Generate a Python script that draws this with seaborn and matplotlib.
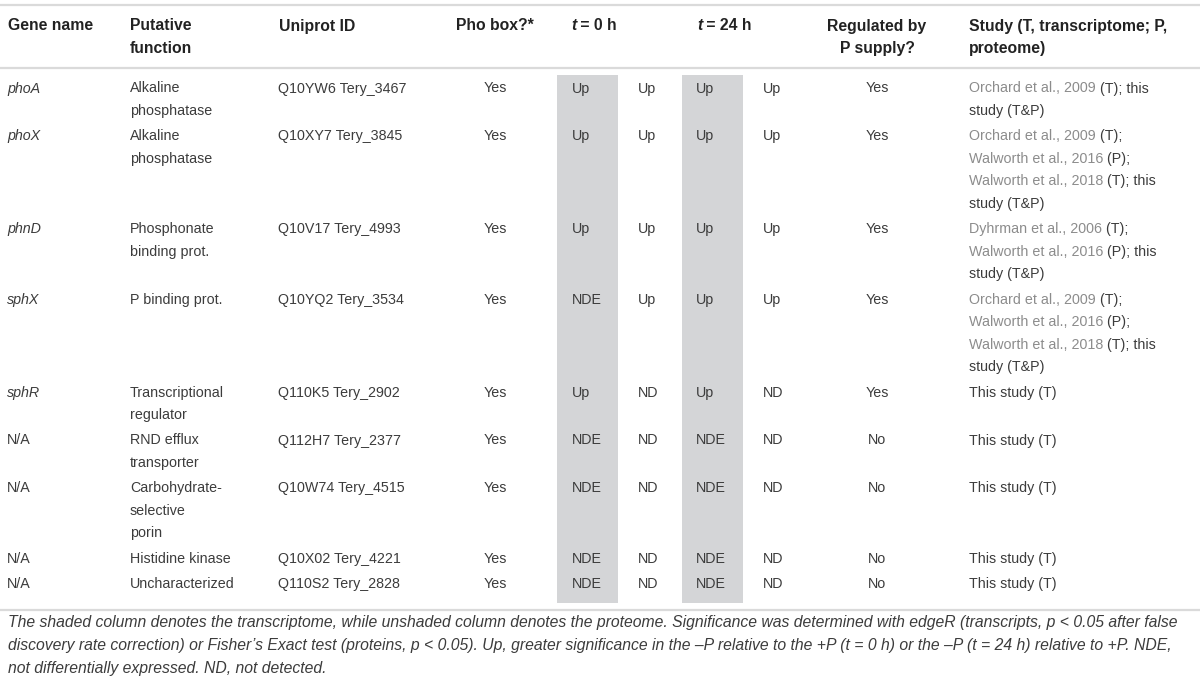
import matplotlib
matplotlib.use("Agg")
import matplotlib.pyplot as plt
from matplotlib import font_manager
import seaborn as sns

sns.set_theme(style="white")
plt.rcParams["font.family"] = ["Liberation Sans", "DejaVu Sans"]

# ---- table content ----
headers = [
    ["Gene name"],
    ["Putative", "function"],
    ["Uniprot ID"],
    ["Pho box?*"],
    ["t = 0 h"],
    ["t = 24 h"],
    ["Regulated by", "P supply?"],
    ["Study (T, transcriptome; P,", "proteome)"],
]
genes = ["phoA", "phoX", "phnD", "sphX", "sphR", "N/A", "N/A", "N/A", "N/A"]
functions = ["Alkaline\nphosphatase", "Alkaline\nphosphatase", "Phosphonate\nbinding prot.",
             "P binding prot.", "Transcriptional\nregulator", "RND efflux\ntransporter",
             "Carbohydrate-\nselective\nporin", "Histidine kinase", "Uncharacterized"]
uniprot = ["Q10YW6 Tery_3467", "Q10XY7 Tery_3845", "Q10V17 Tery_4993", "Q10YQ2 Tery_3534",
           "Q110K5 Tery_2902", "Q112H7 Tery_2377", "Q10W74 Tery_4515", "Q10X02 Tery_4221",
           "Q110S2 Tery_2828"]
pho_box = ["Yes", "Yes", "Yes", "Yes", "Yes", "Yes", "Yes", "Yes", "Yes"]
t0_transcriptome = ["Up", "Up", "Up", "NDE", "Up", "NDE", "NDE", "NDE", "NDE"]
t0_proteome = ["Up", "Up", "Up", "Up", "ND", "ND", "ND", "ND", "ND"]
t24_transcriptome = ["Up", "Up", "Up", "Up", "Up", "NDE", "NDE", "NDE", "NDE"]
t24_proteome = ["Up", "Up", "Up", "Up", "ND", "ND", "ND", "ND", "ND"]
regulated = ["Yes", "Yes", "Yes", "Yes", "Yes", "No", "No", "No", "No"]
# each line is a list of (text, is_reference) segments
study = [
    [[("Orchard et al., 2009", True), (" (T); this", False)], [("study (T&P)", False)]],
    [[("Orchard et al., 2009", True), (" (T);", False)],
     [("Walworth et al., 2016", True), (" (P);", False)],
     [("Walworth et al., 2018", True), (" (T); this", False)], [("study (T&P)", False)]],
    [[("Dyhrman et al., 2006", True), (" (T);", False)],
     [("Walworth et al., 2016", True), (" (P); this", False)], [("study (T&P)", False)]],
    [[("Orchard et al., 2009", True), (" (T);", False)],
     [("Walworth et al., 2016", True), (" (P);", False)],
     [("Walworth et al., 2018", True), (" (T); this", False)], [("study (T&P)", False)]],
    [[("This study (T)", False)]],
    [[("This study (T)", False)]],
    [[("This study (T)", False)]],
    [[("This study (T)", False)]],
    [[("This study (T)", False)]],
]
caption = [
    "The shaded column denotes the transcriptome, while unshaded column denotes the proteome. "
    "Significance was determined with edgeR (transcripts, p < 0.05 after false",
    "discovery rate correction) or Fisher\u2019s Exact test (proteins, p < 0.05). Up, greater "
    "significance in the \u2013P relative to the +P (t = 0 h) or the \u2013P (t = 24 h) relative to +P. NDE,",
    "not differentially expressed. ND, not detected.",
]

# ---- styling ----
BODY = "#3c3c3c"
HEAD = "#222222"
REF = "#8c8c8c"
RULE = "#dadada"
SHADE = "#d4d5d7"
FS = 10.3
HFS = 11.3
LH = 22.5
GAP = 2.9

names = {f.name for f in font_manager.fontManager.ttflist}
cap_family = "Liberation Sans Narrow" if "Liberation Sans Narrow" in names else "Liberation Sans"
cap_fs = 13.6 if cap_family == "Liberation Sans Narrow" else 11.3

fig = plt.figure(figsize=(12, 6.83), dpi=100)
ax = fig.add_axes([0, 0, 1, 1])
ax.set_xlim(0, 1200)
ax.set_ylim(683, 0)
ax.axis("off")

# shaded transcriptome columns
for x0, x1 in [(557, 618), (682, 743)]:
    ax.fill_between([x0, x1], 75, 603, color=SHADE, lw=0)

for y in (5, 67.5, 610):
    ax.axhline(y, color=RULE, lw=1.6)


def chain(x, y, segments, fs, **kw):
    t = None
    for txt, color, extra in segments:
        style = dict(kw)
        style.update(extra)
        if t is None:
            t = ax.text(x, y, txt, fontsize=fs, color=color, va="baseline", ha="left", **style)
        else:
            t = ax.annotate(txt, xy=(1, 0), xycoords=t, fontsize=fs, color=color,
                            va="bottom", ha="left", **style)
    return t


# header
head_x = [8, 130, 279, 495, 571, 697, 877, 969]
head_ha = ["left", "left", "left", "center", "left", "left", "center", "left"]
for i, lines in enumerate(headers):
    for k, line in enumerate(lines):
        yb = 30.5 + k * LH
        if line.startswith("t = "):
            chain(head_x[i], yb, [("t", HEAD, {"fontstyle": "italic"}),
                                  (line[1:], HEAD, {})], HFS, fontweight="bold")
        else:
            ax.text(head_x[i], yb, line, fontsize=HFS, fontweight="bold", color=HEAD,
                    ha=head_ha[i], va="baseline")

# body rows
y = 92.5
for r in range(len(genes)):
    func_lines = functions[r].split("\n")
    n = max(len(func_lines), len(study[r]))
    ax.text(7, y, genes[r], fontsize=FS, color=BODY, va="baseline",
            fontstyle="normal" if genes[r] == "N/A" else "italic")
    for k, line in enumerate(func_lines):
        ax.text(130, y + k * LH, line, fontsize=FS, color=BODY, va="baseline")
    ax.text(278, y, uniprot[r], fontsize=FS, color=BODY, va="baseline")
    ax.text(495, y, pho_box[r], fontsize=FS, color=BODY, va="baseline", ha="center")
    ax.text(572, y, t0_transcriptome[r], fontsize=FS, color=BODY, va="baseline")
    ax.text(638, y, t0_proteome[r], fontsize=FS, color=BODY, va="baseline")
    ax.text(696, y, t24_transcriptome[r], fontsize=FS, color=BODY, va="baseline")
    ax.text(763, y, t24_proteome[r], fontsize=FS, color=BODY, va="baseline")
    ax.text(877, y, regulated[r], fontsize=FS, color=BODY, va="baseline", ha="center")
    for k, line in enumerate(study[r]):
        chain(969, y + k * LH, [(s, REF if ref else BODY, {}) for s, ref in line], FS)
    y += n * LH + GAP

# caption
for k, line in enumerate(caption):
    ax.text(8, 627 + k * 23, line, fontsize=cap_fs, fontstyle="italic", color=BODY,
            family=[cap_family, "DejaVu Sans"], va="baseline")

fig.savefig("out.png", dpi=100)
